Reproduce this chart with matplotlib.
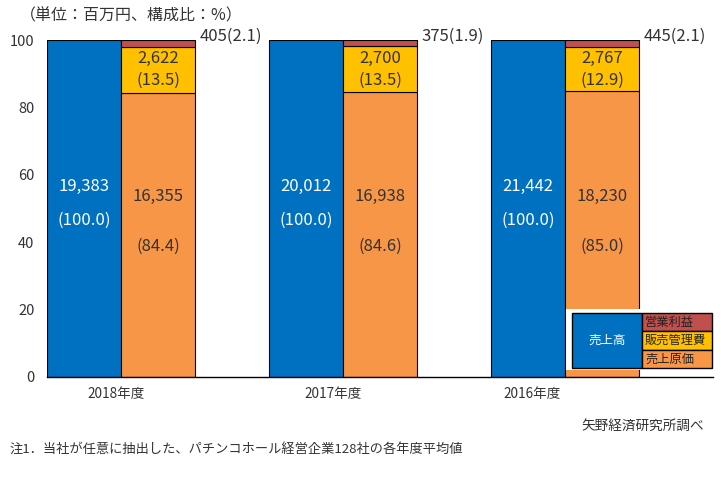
import matplotlib
matplotlib.use("Agg")
import matplotlib.pyplot as plt
from matplotlib.patches import Rectangle

plt.rcParams['font.family'] = ['Noto Sans CJK JP', 'DejaVu Sans']

# データ（単位：百万円、構成比：%）
years = ['2018年度', '2017年度', '2016年度']
sales = [19383, 20012, 21442]
cost = [16355, 16938, 18230]
sga = [2622, 2700, 2767]
profit = [405, 375, 445]
cost_pct = [84.4, 84.6, 85.0]
sga_pct = [13.5, 13.5, 12.9]
profit_pct = [2.1, 1.9, 2.1]
yticks = [0, 20, 40, 60, 80, 100]

C_BLUE = '#0070C0'
C_ORANGE = '#F79646'
C_YELLOW = '#FFC000'
C_RED = '#C0504D'
TXT = '#333333'

W, H = 721, 493
fig = plt.figure(figsize=(W / 100, H / 100), dpi=100)


def fx(px):
    return px / W


def fy(py):
    return 1 - py / H


ax = fig.add_axes([fx(47), fy(377), fx(713) - fx(47), fy(40) - fy(377)])

bw = 1 / 3
xs = list(range(len(years)))
xb = [x - bw / 2 for x in xs]
xst = [x + bw / 2 for x in xs]
ax.bar(xb, [100] * len(xs), width=bw, color=C_BLUE, edgecolor='black', linewidth=0.8)
ax.bar(xst, cost_pct, width=bw, color=C_ORANGE, edgecolor='black', linewidth=0.8)
ax.bar(xst, sga_pct, width=bw, bottom=cost_pct, color=C_YELLOW, edgecolor='black', linewidth=0.8)
bot2 = [a + b for a, b in zip(cost_pct, sga_pct)]
ax.bar(xst, profit_pct, width=bw, bottom=bot2, color=C_RED, edgecolor='black', linewidth=0.8)

fs = 12
for i in xs:
    ax.text(xb[i], 56.4, f'{sales[i]:,}', ha='center', va='center', color='white', fontsize=fs)
    ax.text(xb[i], 46.6, '(100.0)', ha='center', va='center', color='white', fontsize=fs)
    ax.text(xst[i], 53.7, f'{cost[i]:,}', ha='center', va='center', color=TXT, fontsize=fs)
    ax.text(xst[i], 38.9, f'({cost_pct[i]:.1f})', ha='center', va='center', color=TXT, fontsize=fs)
    ax.text(xst[i], 94.4, f'{sga[i]:,}', ha='center', va='center', color=TXT, fontsize=fs)
    ax.text(xst[i], 88.1, f'({sga_pct[i]:.1f})', ha='center', va='center', color=TXT, fontsize=fs)
    ax.text(xst[i] + bw / 2 + 0.02, 101.0, f'{profit[i]}({profit_pct[i]:.1f})',
            ha='left', va='center', color=TXT, fontsize=fs)

ax.set_xlim(-1 / 3, 8 / 3)
ax.set_ylim(0, 100)
ax.set_yticks(yticks)
ax.tick_params(axis='y', length=0, labelsize=10.5, labelcolor=TXT, pad=9)
ax.set_xticks([])
for s in ['top', 'right', 'left']:
    ax.spines[s].set_visible(False)
ax.spines['bottom'].set_linewidth(1.0)

# 年度ラベル
lab_off = [-0.02, -0.045, -0.15]
for i in xs:
    ax.text(xs[i] + lab_off[i], -5, years[i], ha='center', va='center',
            fontsize=9.8, color=TXT, clip_on=False)

# 凡例（表形式）
fig.patches.append(Rectangle((fx(566), fy(370)), fx(712) - fx(566), fy(309) - fy(370),
                             transform=fig.transFigure, facecolor='white', edgecolor='none', zorder=5))
fig.patches.append(Rectangle((fx(572), fy(368)), fx(642) - fx(572), fy(313) - fy(368),
                             transform=fig.transFigure, facecolor=C_BLUE, edgecolor='black',
                             linewidth=1.0, zorder=6))
fig.text(fx(607), fy(340.5), '売上高', ha='center', va='center', color='white', fontsize=9, zorder=7)
leg_items = [('営業利益', C_RED), ('販売管理費', C_YELLOW), ('売上原価', C_ORANGE)]
row_top = [313, 331.3, 349.6]
for (name, col), top in zip(leg_items, row_top):
    fig.patches.append(Rectangle((fx(642), fy(top + 18.3)), fx(712) - fx(642), fy(top) - fy(top + 18.3),
                                 transform=fig.transFigure, facecolor=col, edgecolor='black',
                                 linewidth=1.0, zorder=6))
    fig.text(fx(645), fy(top + 9.2), name, ha='left', va='center', color='#222222', fontsize=8.8, zorder=7)

fig.text(fx(20), fy(16), '（単位：百万円、構成比：%）', ha='left', va='center', fontsize=11.5, color=TXT)
fig.text(fx(704), fy(426), '矢野経済研究所調べ', ha='right', va='center', fontsize=9.8, color=TXT)
fig.text(fx(10), fy(449), '注1．当社が任意に抽出した、パチンコホール経営企業128社の各年度平均値',
         ha='left', va='center', fontsize=9.5, color=TXT)

fig.savefig('out.png', dpi=100)
